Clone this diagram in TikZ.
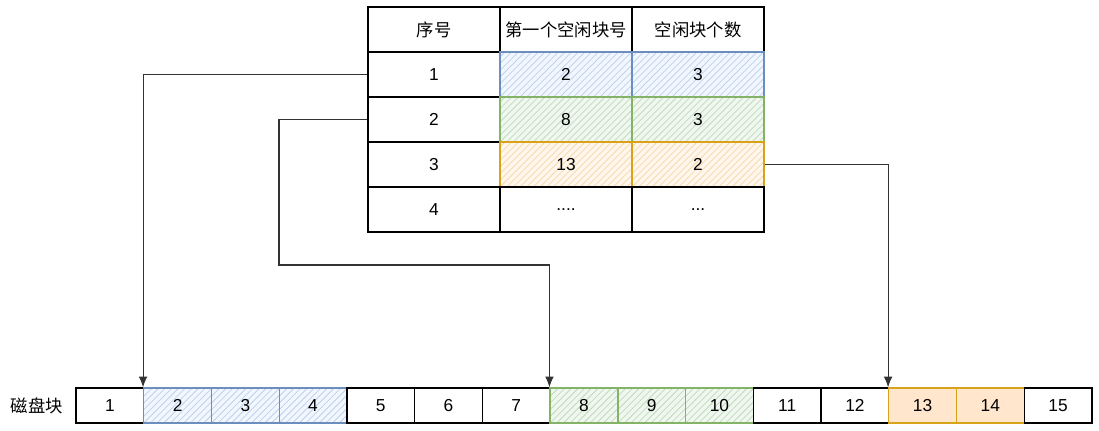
\documentclass[tikz,border=0pt]{standalone}
\usepackage{fontspec}
\setmainfont{Liberation Sans}
\newfontfamily\cjk{Noto Sans CJK SC}
\usepackage{tikz}
\usetikzlibrary{arrows}
\usetikzlibrary{arrows.meta}
\definecolor{blueF}{HTML}{DAE8FC}
\definecolor{blueD}{HTML}{6C8EBF}
\definecolor{greenF}{HTML}{D5E8D4}
\definecolor{greenD}{HTML}{82B366}
\definecolor{orangeF}{HTML}{FFE6CC}
\definecolor{orangeD}{HTML}{D8A21A}

\begin{document}
\begin{tikzpicture}[>={Latex[length=8pt,width=6.5pt]}, x=0.75pt, y=-0.75pt,
  cell/.style={draw=black, line width=1.1pt, minimum width=99pt, minimum height=33.75pt, inner sep=0pt, font=\fontsize{13}{15}\selectfont},
  blk/.style={draw=black, line width=1pt, minimum width=50.8pt, minimum height=26.25pt, inner sep=0pt, font=\fontsize{13}{15}\selectfont},
  wcell/.style={fill=white},
  hatch/.style={path picture={
    \foreach \k in {0,...,30}
      \draw[line width=0.6pt, draw=#1] ([xshift=\k*5pt-45pt]path picture bounding box.south west) -- ++(45,-45);
  }},
  bluehatch/.style={draw=blueD, fill=blueF!35, hatch=blueF!75!blueD},
  greenhatch/.style={draw=greenD, fill=greenF!35, hatch=greenF!75!greenD},
  orangehatch/.style={draw=orangeD, fill=orangeF!35, hatch=orangeF!80!orangeD},
  orangefill/.style={draw=orangeD, fill=orangeF},
  link/.style={->, draw=black!80, line width=0.8pt}]
\useasboundingbox (0,0) rectangle (1099,431);

% table head
\node[cell] at (434,29.5) (h1) {\cjk 序号};
\node[cell] at (566,29.5) (h2) {\cjk 第一个空闲块号};
\node[cell] at (698,29.5) (h3) {\cjk 空闲块个数};

\foreach \r/\y/\a/\b/\s in {1/74.5/2/3/bluehatch, 2/119.5/8/3/greenhatch, 3/164.5/13/2/orangehatch}
{
  \node[cell] at (434,\y) (r\r a) {\r};
  \node[cell,\s] at (566,\y) (r\r b) {\a};
  \node[cell,\s] at (698,\y) (r\r c) {\b};
}
\node[cell] at (434,209.5) (r4a) {4};
\node[cell] at (566,209.5) (r4b) {....};
\node[cell] at (698,209.5) (r4c) {...};

% disk blocks
\node[font=\fontsize{13}{15}\selectfont] at (37,405.5) (disk) {\cjk 磁盘块};
\foreach \i/\s in {1/wcell,2/bluehatch,3/bluehatch,4/bluehatch,5/wcell,6/wcell,7/wcell,8/greenhatch,9/greenhatch,10/greenhatch,11/wcell,12/wcell,13/orangefill,14/orangefill,15/wcell}
  \node[blk,\s] at ({76+67.73*(\i-0.5)},405.5) (b\i) {\i};

\coordinate (turn) at (279,265);
\draw[link] (r1a.west) -| (b2.north west);
\draw[link] (r2a.west) -| (turn) -| (b8.north west);
\draw[link] (r3c.east) -| (b13.north west);
\end{tikzpicture}
\end{document}
